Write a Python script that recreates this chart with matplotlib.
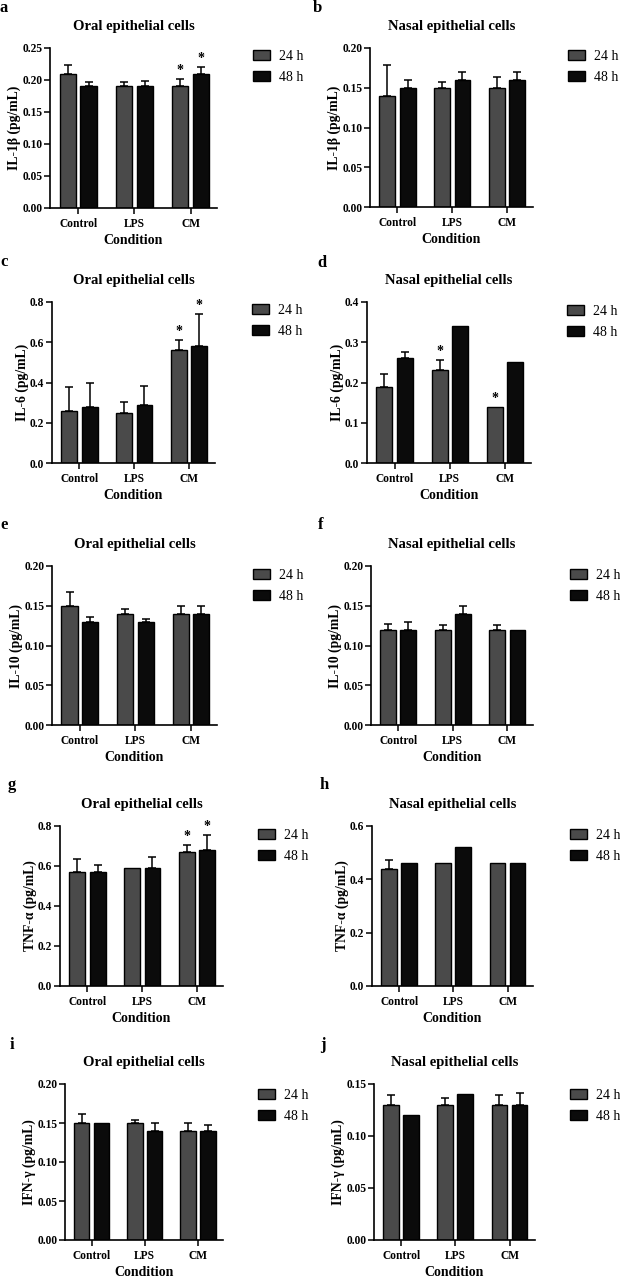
import numpy as np
import matplotlib
matplotlib.use("Agg")
import matplotlib.pyplot as plt
from matplotlib.patches import Patch

# ---------------- data ----------------
conditions = ["Control", "LPS", "CM"]
series = ["24 h", "48 h"]
xlabel = "Condition"

panel_letters = ["a", "b", "c", "d", "e", "f", "g", "h", "i", "j"]
panel_titles = ["Oral epithelial cells", "Nasal epithelial cells"] * 5
panel_ylabels = ["IL-1β (pg/mL)", "IL-1β (pg/mL)",
                 "IL-6 (pg/mL)", "IL-6 (pg/mL)",
                 "IL-10 (pg/mL)", "IL-10 (pg/mL)",
                 "TNF-α (pg/mL)", "TNF-α (pg/mL)",
                 "IFN-γ (pg/mL)", "IFN-γ (pg/mL)"]

# IL-1β
il1b_oral_24 = [0.21, 0.19, 0.19]
il1b_oral_24_err = [0.013, 0.007, 0.012]
il1b_oral_48 = [0.19, 0.19, 0.21]
il1b_oral_48_err = [0.007, 0.008, 0.010]
il1b_nasal_24 = [0.14, 0.15, 0.15]
il1b_nasal_24_err = [0.038, 0.007, 0.013]
il1b_nasal_48 = [0.15, 0.16, 0.16]
il1b_nasal_48_err = [0.010, 0.010, 0.010]
# IL-6
il6_oral_24 = [0.26, 0.25, 0.56]
il6_oral_24_err = [0.12, 0.053, 0.05]
il6_oral_48 = [0.28, 0.29, 0.58]
il6_oral_48_err = [0.12, 0.093, 0.16]
il6_nasal_24 = [0.19, 0.23, 0.14]
il6_nasal_24_err = [0.031, 0.026, 0.0]
il6_nasal_48 = [0.26, 0.34, 0.25]
il6_nasal_48_err = [0.017, 0.0, 0.0]
# IL-10
il10_oral_24 = [0.15, 0.14, 0.14]
il10_oral_24_err = [0.017, 0.006, 0.010]
il10_oral_48 = [0.13, 0.13, 0.14]
il10_oral_48_err = [0.006, 0.003, 0.010]
il10_nasal_24 = [0.12, 0.12, 0.12]
il10_nasal_24_err = [0.007, 0.006, 0.006]
il10_nasal_48 = [0.12, 0.14, 0.12]
il10_nasal_48_err = [0.009, 0.010, 0.0]
# TNF-α
tnf_oral_24 = [0.57, 0.59, 0.67]
tnf_oral_24_err = [0.064, 0.0, 0.035]
tnf_oral_48 = [0.57, 0.59, 0.68]
tnf_oral_48_err = [0.034, 0.055, 0.075]
tnf_nasal_24 = [0.44, 0.46, 0.46]
tnf_nasal_24_err = [0.034, 0.0, 0.0]
tnf_nasal_48 = [0.46, 0.52, 0.46]
tnf_nasal_48_err = [0.0, 0.0, 0.0]
# IFN-γ
ifn_oral_24 = [0.15, 0.15, 0.14]
ifn_oral_24_err = [0.012, 0.004, 0.0096]
ifn_oral_48 = [0.15, 0.14, 0.14]
ifn_oral_48_err = [0.0, 0.0096, 0.008]
ifn_nasal_24 = [0.13, 0.13, 0.13]
ifn_nasal_24_err = [0.009, 0.007, 0.009]
ifn_nasal_48 = [0.12, 0.14, 0.13]
ifn_nasal_48_err = [0.0, 0.0, 0.011]

# significance stars (per condition) for 24 h and 48 h
stars_24 = [[0, 0, 1], [0, 0, 0], [0, 0, 1], [0, 1, 1], [0, 0, 0],
            [0, 0, 0], [0, 0, 1], [0, 0, 0], [0, 0, 0], [0, 0, 0]]
stars_48 = [[0, 0, 1], [0, 0, 0], [0, 0, 1], [0, 0, 0], [0, 0, 0],
            [0, 0, 0], [0, 0, 1], [0, 0, 0], [0, 0, 0], [0, 0, 0]]

# y-axis ranges / tick steps
y_max = [0.25, 0.20, 0.8, 0.4, 0.20, 0.20, 0.8, 0.6, 0.20, 0.15]
y_step = [0.05, 0.05, 0.2, 0.1, 0.05, 0.05, 0.2, 0.2, 0.05, 0.05]

values_24 = [il1b_oral_24, il1b_nasal_24, il6_oral_24, il6_nasal_24,
             il10_oral_24, il10_nasal_24, tnf_oral_24, tnf_nasal_24,
             ifn_oral_24, ifn_nasal_24]
errors_24 = [il1b_oral_24_err, il1b_nasal_24_err, il6_oral_24_err, il6_nasal_24_err,
             il10_oral_24_err, il10_nasal_24_err, tnf_oral_24_err, tnf_nasal_24_err,
             ifn_oral_24_err, ifn_nasal_24_err]
values_48 = [il1b_oral_48, il1b_nasal_48, il6_oral_48, il6_nasal_48,
             il10_oral_48, il10_nasal_48, tnf_oral_48, tnf_nasal_48,
             ifn_oral_48, ifn_nasal_48]
errors_48 = [il1b_oral_48_err, il1b_nasal_48_err, il6_oral_48_err, il6_nasal_48_err,
             il10_oral_48_err, il10_nasal_48_err, tnf_oral_48_err, tnf_nasal_48_err,
             ifn_oral_48_err, ifn_nasal_48_err]

# ---------------- layout / style ----------------
W, H = 620, 1279
DPI = 100
# axes rectangles in pixels: left, top, right, bottom
rects = [(50, 48, 217, 208), (370, 48, 533, 207),
         (52, 302, 215, 463), (367, 302, 531, 463),
         (52, 566, 217, 725), (371, 566, 533, 725),
         (60, 826, 223, 986), (372, 826, 533, 986),
         (65, 1084, 223, 1240), (374, 1084, 535, 1240)]
# legend positions (patch left x, first row center y) in pixels
legend_pos = [(253, 58), (568, 58), (252, 312), (567, 313), (253, 577),
              (570, 577), (258, 837), (570, 837), (258, 1097), (570, 1097)]
# panel letter positions (x, y) in pixels
letter_pos = [(0, 8), (313, 8), (0, 262), (317, 263), (0, 525),
              (318, 525), (8, 785), (320, 785), (10, 1045), (320, 1045)]

c24 = "#4a4a4a"
c48 = "#0b0b0b"
SERIF = ["Liberation Serif", "DejaVu Serif"]
plt.rcParams["font.family"] = SERIF

fig = plt.figure(figsize=(W / DPI, H / DPI), dpi=DPI)
fig.patch.set_facecolor("white")

x = np.arange(len(conditions))
bw = 0.29
off = 0.185
px = 72.0 / DPI

for k in range(10):
    l, t, r, b = rects[k]
    ax = fig.add_axes([l / W, 1 - b / H, (r - l) / W, (b - t) / H])
    v24 = np.array(values_24[k]); e24 = np.array(errors_24[k])
    v48 = np.array(values_48[k]); e48 = np.array(errors_48[k])
    ax.bar(x - off, v24, bw, color=c24, edgecolor="black", linewidth=1.0, zorder=2)
    ax.bar(x + off, v48, bw, color=c48, edgecolor="black", linewidth=1.0, zorder=2)
    for xs, vs, es in ((x - off, v24, e24), (x + off, v48, e48)):
        m = es > 0
        if m.any():
            ax.errorbar(xs[m], vs[m], yerr=[np.zeros(m.sum()), es[m]], fmt="none",
                        ecolor="black", elinewidth=1.1, capsize=4 * px,
                        capthick=1.1, zorder=1)
    ymax = y_max[k]
    for xs, vs, es, st in ((x - off, v24, e24, stars_24[k]), (x + off, v48, e48, stars_48[k])):
        for i in range(len(conditions)):
            if st[i]:
                ax.text(xs[i], vs[i] + es[i] + ymax * 0.012, "*", ha="center",
                        va="bottom", fontsize=10, fontweight="bold")
    ax.set_xlim(-0.5, 2.47)
    ax.set_ylim(0, ymax)
    ticks = np.arange(0, ymax + y_step[k] / 2, y_step[k])
    ax.set_yticks(ticks)
    fmt = "{:.2f}" if y_step[k] < 0.1 else "{:.1f}"
    ax.set_yticklabels([fmt.format(tv) for tv in ticks])
    ax.set_xticks(x)
    ax.set_xticklabels(conditions)
    for lab in ax.get_xticklabels() + ax.get_yticklabels():
        lab.set_fontweight("bold")
        lab.set_fontsize(8.3)
    ax.tick_params(axis="y", direction="out", length=4, width=1.1, pad=1.5, colors="black")
    ax.tick_params(axis="x", direction="out", length=4, width=1.1, pad=3, colors="black")
    for s in ("top", "right"):
        ax.spines[s].set_visible(False)
    for s in ("left", "bottom"):
        ax.spines[s].set_linewidth(1.2)
    ax.set_xlabel(xlabel, fontsize=10, fontweight="bold", labelpad=3)
    ax.set_ylabel(panel_ylabels[k], fontsize=9.8, fontweight="bold", labelpad=1)
    ax.set_title(panel_titles[k], fontsize=10.5, fontweight="bold", pad=13)
    handles = [Patch(facecolor=c24, edgecolor="black", linewidth=1.0, label=series[0]),
               Patch(facecolor=c48, edgecolor="black", linewidth=1.0, label=series[1])]
    lx, ly = legend_pos[k]
    ax.legend(handles=handles, loc="upper left",
              bbox_to_anchor=(lx / W, 1 - (ly - 8) / H), bbox_transform=fig.transFigure,
              frameon=False, fontsize=10, borderpad=0, borderaxespad=0,
              handlelength=1.25, handleheight=0.7, handletextpad=0.6,
              labelspacing=0.55)
    fx, fy = letter_pos[k]
    fig.text(fx / W, 1 - fy / H, panel_letters[k], fontsize=12, fontweight="bold",
             ha="left", va="center")

fig.savefig("out.png", dpi=DPI, facecolor="white")
